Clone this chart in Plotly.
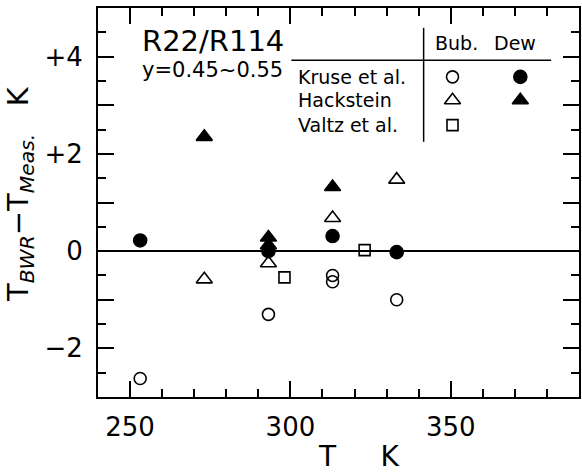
import plotly.graph_objects as go

# Temperature deviations of the BWR equation for R22/R114 mixtures (y = 0.45~0.55)
kruse_bub_T = [253.15, 293.15, 313.15, 313.15, 333.15]
kruse_bub_dT = [-2.62, -1.30, -0.50, -0.63, -1.00]

kruse_dew_T = [253.15, 293.15, 313.15, 333.15]
kruse_dew_dT = [0.22, 0.00, 0.31, -0.02]

hack_bub_T = [273.15, 293.15, 313.15, 333.15]
hack_bub_dT = [-0.58, -0.25, 0.68, 1.47]

hack_dew_T = [273.15, 293.15, 293.15, 313.15]
hack_dew_dT = [2.35, 0.28, 0.12, 1.32]

valtz_bub_T = [298.15, 323.15]
valtz_bub_dT = [-0.54, 0.02]

# labelled y ticks, plus unlabelled long ticks at the odd integers
y_tickvals = [-2, 0, 2, 4]
y_ticktext = ["\u22122", "0", "+2", "+4"]
y_odd_ticks = [-3, -1, 1, 3, 5]
x_tickvals = [250, 300, 350]
x_ticktext = ["250", "300", "350"]

X_RANGE = [240, 390]
Y_RANGE = [-3, 5]

FONT = "DejaVu Sans"
INK = "black"


def px(p):
    """paper x -> data x"""
    return X_RANGE[0] + p * (X_RANGE[1] - X_RANGE[0])


def py(p):
    """paper y -> data y"""
    return Y_RANGE[0] + p * (Y_RANGE[1] - Y_RANGE[0])


fig = go.Figure()

series = [
    ("Kruse et al. Bub.", kruse_bub_T, kruse_bub_dT, "circle-open", 12),
    ("Kruse et al. Dew", kruse_dew_T, kruse_dew_dT, "circle", 13),
    ("Hackstein Bub.", hack_bub_T, hack_bub_dT, "triangle-up-open", 14),
    ("Hackstein Dew", hack_dew_T, hack_dew_dT, "triangle-up", 14),
    ("Valtz et al. Bub.", valtz_bub_T, valtz_bub_dT, "square-open", 11),
]
for name, xs, ys, sym, size in series:
    fig.add_trace(go.Scatter(
        x=xs, y=ys, mode="markers", name=name, showlegend=False,
        marker=dict(symbol=sym, size=size, color=INK, line=dict(color=INK, width=1.6)),
        cliponaxis=False,
    ))

# Legend table (upper right)
row_y = {"Kruse et al.": 0.823, "Hackstein": 0.763, "Valtz et al.": 0.699}
bub_x, dew_x = 0.737, 0.878
legend_keys = [
    ("Kruse et al.", bub_x, "circle-open", 12),
    ("Kruse et al.", dew_x, "circle", 13),
    ("Hackstein", bub_x, "triangle-up-open", 14),
    ("Hackstein", dew_x, "triangle-up", 14),
    ("Valtz et al.", bub_x, "square-open", 11),
]
for row, kx, sym, size in legend_keys:
    fig.add_trace(go.Scatter(
        x=[px(kx)], y=[py(row_y[row])], mode="markers", showlegend=False,
        marker=dict(symbol=sym, size=size, color=INK, line=dict(color=INK, width=1.6)),
        hoverinfo="skip",
    ))

annotations = []
for row, yv in row_y.items():
    annotations.append(dict(x=0.412, y=yv, xref="paper", yref="paper", text=row,
                            showarrow=False, xanchor="left", yanchor="middle",
                            font=dict(family=FONT, size=19, color=INK)))
annotations += [
    dict(x=0.745, y=0.910, xref="paper", yref="paper", text="Bub.", showarrow=False,
         xanchor="center", yanchor="middle", font=dict(family=FONT, size=19, color=INK)),
    dict(x=0.867, y=0.910, xref="paper", yref="paper", text="Dew", showarrow=False,
         xanchor="center", yanchor="middle", font=dict(family=FONT, size=19, color=INK)),
    dict(x=0.087, y=0.916, xref="paper", yref="paper", text="R22/R114", showarrow=False,
         xanchor="left", yanchor="middle", font=dict(family=FONT, size=29, color=INK)),
    dict(x=0.087, y=0.841, xref="paper", yref="paper", text="y=0.45~0.55", showarrow=False,
         xanchor="left", yanchor="middle", font=dict(family=FONT, size=21, color=INK)),
    # axis titles
    dict(x=0.543, y=-0.154, xref="paper", yref="paper", text="T     K", showarrow=False,
         xanchor="center", yanchor="middle", font=dict(family=FONT, size=28, color=INK)),
    dict(x=-0.162, y=0.522, xref="paper", yref="paper", textangle=-90,
         text="T<sub><i>BWR</i></sub>\u2212T<sub><i>Meas.</i></sub>   K", showarrow=False,
         xanchor="center", yanchor="middle", font=dict(family=FONT, size=29, color=INK)),
]

shapes = [
    dict(type="line", xref="paper", yref="paper", x0=0.402, x1=0.942, y0=0.866, y1=0.866,
         line=dict(color=INK, width=1.5)),
    dict(type="line", xref="paper", yref="paper", x0=0.677, x1=0.677, y0=0.656, y1=0.949,
         line=dict(color=INK, width=1.5)),
]

axis_common = dict(
    showgrid=False, showline=True, linecolor=INK, linewidth=2, mirror="ticks",
    ticks="inside", tickcolor=INK, tickwidth=1.5, ticklen=16,
    tickfont=dict(family=FONT, size=26, color=INK),
)

fig.update_layout(
    xaxis=dict(
        range=X_RANGE, tickmode="array", tickvals=x_tickvals, ticktext=x_ticktext,
        zeroline=False, ticklabelstandoff=6,
        minor=dict(dtick=10, tick0=240, ticks="inside", ticklen=8, tickcolor=INK, tickwidth=1.5),
        **axis_common,
    ),
    yaxis=dict(
        range=Y_RANGE, tickmode="array", tickvals=y_tickvals, ticktext=y_ticktext,
        zeroline=True, zerolinecolor=INK, zerolinewidth=1.5, ticklabelstandoff=8,
        minor=dict(dtick=0.5, tick0=0, ticks="inside", ticklen=8, tickcolor=INK, tickwidth=1.5),
        **axis_common,
    ),
    # unlabelled long ticks at odd integers, overlaid on the main y axis
    yaxis2=dict(
        overlaying="y", anchor="x", side="left", range=Y_RANGE,
        tickmode="array", tickvals=y_odd_ticks, showticklabels=False,
        showgrid=False, zeroline=False, showline=True, linecolor=INK, linewidth=2,
        mirror="ticks", ticks="inside", tickcolor=INK, tickwidth=1.5, ticklen=16,
    ),
    width=582, height=476,
    margin=dict(l=98, r=1, t=8, b=79),
    paper_bgcolor="white", plot_bgcolor="white",
    annotations=annotations, shapes=shapes,
    showlegend=False,
)

# an invisible trace keeps the overlaid tick axis drawn
fig.add_trace(go.Scatter(x=[None], y=[None], yaxis="y2", mode="markers",
                         showlegend=False, hoverinfo="skip"))

fig.write_html("out.html")
